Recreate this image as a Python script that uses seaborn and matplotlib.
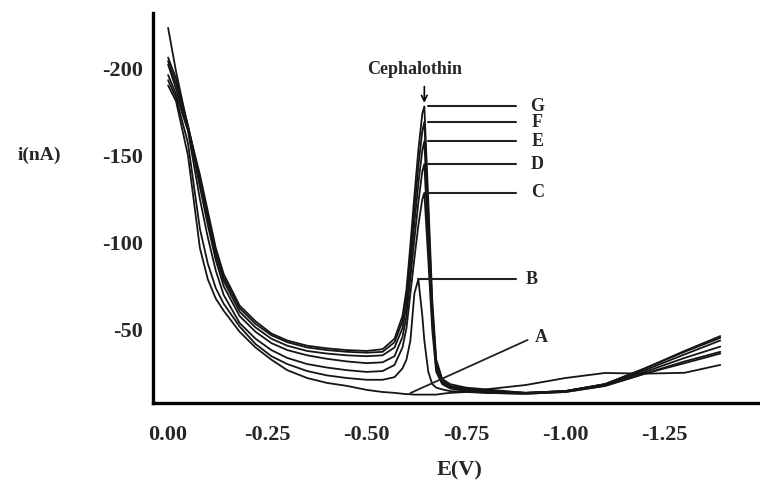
import numpy as np
import pandas as pd
import matplotlib
matplotlib.use("Agg")
import matplotlib.pyplot as plt
from matplotlib.ticker import MultipleLocator, FuncFormatter
import seaborn as sns

# ---- data ----
E = [0.0, -0.02, -0.05, -0.08, -0.10, -0.12, -0.14, -0.18, -0.22, -0.26, -0.30,
     -0.35, -0.40, -0.45, -0.50, -0.54, -0.57, -0.59, -0.60, -0.61, -0.62, -0.63,
     -0.64, -0.645, -0.655, -0.665, -0.675, -0.69, -0.71, -0.75, -0.80, -0.90,
     -1.00, -1.10, -1.20, -1.30, -1.39]

curve_G = [-223, -198, -166, -139, -118, -97, -82, -64, -55, -48, -44, -41, -39.5, -38.5,
           -38, -39, -45, -58, -73, -99, -127, -153, -174, -178, -124, -67, -33, -22, -19,
           -17, -16, -14, -15, -19, -28, -38, -46.5]
curve_F = [-206, -194, -167, -137, -116, -95, -80, -62.5, -53.5, -47, -43, -40, -38.5, -37.5,
           -37, -37.5, -43, -55, -69, -93, -119, -144, -164, -169, -117, -63, -31, -21, -18,
           -16.5, -15.5, -14, -15, -19, -28, -37.5, -45.5]
curve_E = [-204, -191, -167, -135, -113, -93, -78, -60.5, -51.5, -45, -41, -38, -36.5, -35.5,
           -35, -35.5, -40, -51, -64, -87, -111, -134, -153, -158, -109, -59, -30, -20, -17.5,
           -16, -15, -14, -15, -19, -27, -36, -44]
curve_D = [-202, -188, -166, -132, -110, -90, -75, -58, -49, -42.5, -38.5, -35.5, -33.5, -32,
           -31, -31.5, -35, -46, -58, -80, -102, -123, -141, -145, -100, -55, -28, -19.5, -17,
           -15.5, -14.5, -14, -15, -18.5, -26, -34, -40.5]
curve_C = [-196, -185, -164, -125, -103, -84, -70, -54, -45, -38.5, -34, -30.5, -28.5, -27,
           -26, -26.5, -30, -40, -51, -71, -91, -110, -125, -128.5, -90, -50, -26, -19, -16.5,
           -15, -14, -13.5, -14.5, -18, -25, -32, -37.5]
curve_B = [-193, -183, -157, -108, -88, -74, -65, -52, -42, -35, -30.5, -26.5, -24, -22.5,
           -21.5, -21.5, -23, -28, -33, -44, -71, -79, -58, -44, -26, -19, -17, -16, -15,
           -14.5, -14, -13.5, -14.5, -18, -25, -31, -36.5]
curve_A = [-190, -181, -150, -97, -79, -68, -61, -49, -40, -33, -27, -22.5, -19.7, -18,
           -15.7, -14.5, -14, -13.5, -13.3, -13.2, -13, -13, -13, -13, -13, -13, -13, -13.5,
           -14, -14.5, -16, -18.5, -22.5, -25.4, -25, -25.5, -30]

labels = ["A", "B", "C", "D", "E", "F", "G"]
curves = [curve_A, curve_B, curve_C, curve_D, curve_E, curve_F, curve_G]
x_ticks = [0.0, -0.25, -0.50, -0.75, -1.00, -1.25]
y_ticks = [-200, -150, -100, -50]

df = pd.concat([pd.DataFrame({"E": E, "I": c, "sample": lab})
                for lab, c in zip(labels, curves)], ignore_index=True)

# ---- style ----
sns.set_style("white")
plt.rcParams["font.family"] = ["Liberation Serif", "DejaVu Serif"]
plt.rcParams["font.weight"] = "bold"
plt.rcParams["axes.unicode_minus"] = False

fig = plt.figure(figsize=(7.6, 4.84), dpi=100)
ax = fig.add_axes([153 / 760, 1 - 403 / 484, 1 - 153 / 760, (403 - 13) / 484])

sns.lineplot(data=df, x="E", y="I", units="sample", estimator=None, sort=False,
             color="#151515", lw=1.3, ax=ax, legend=False)

ax.set_xlim(0.038, -1.49)
ax.set_ylim(-8.2, -231.5)

for s in ["top", "right"]:
    ax.spines[s].set_visible(False)
for s in ["left", "bottom"]:
    ax.spines[s].set_linewidth(2.4)
    ax.spines[s].set_color("black")

ax.set_xticks(x_ticks)
ax.xaxis.set_minor_locator(MultipleLocator(0.044))
ax.set_yticks(y_ticks)
ax.yaxis.set_minor_locator(MultipleLocator(10))
ax.xaxis.set_major_formatter(FuncFormatter(lambda v, p: "0.00" if abs(v) < 1e-9 else f"{v:.2f}"))
ax.yaxis.set_major_formatter(FuncFormatter(lambda v, p: f"{v:.0f}"))
ax.tick_params(axis="both", which="both", direction="out", color="black")
ax.tick_params(axis="x", which="major", length=7, width=2.6, pad=9, labelsize=16)
ax.tick_params(axis="x", which="minor", length=5, width=2.2)
ax.tick_params(axis="y", which="major", length=6, width=2.4, pad=1, labelsize=16)
ax.tick_params(axis="y", which="minor", length=5, width=2.2)
for t in ax.get_xticklabels() + ax.get_yticklabels():
    t.set_fontweight("bold")

ax.set_xlabel("")
ax.set_ylabel("")
fig.text(0.605, 0.028, "E(V)", ha="center", va="center", fontsize=16, fontweight="bold")
fig.text(0.052, 0.68, "i(nA)", ha="center", va="center", fontsize=14, fontweight="bold")


def peak_of(c):
    """Peak (most negative current) inside the reduction-wave window."""
    idx = [k for k, e in enumerate(E) if -0.75 <= e <= -0.55]
    k = min(idx, key=lambda j: c[j])
    return E[k], c[k]


# ---- annotations derived from the data ----
label_end = -0.875
for lab, c in zip(labels, curves):
    if lab == "A":
        continue
    pe, pi = peak_of(c)
    start = pe - (0.0 if lab == "B" else 0.01)
    ax.plot([start, label_end], [pi, pi], color="#222222", lw=1.5)
    ax.text(-0.915 if lab == "B" else -0.93, pi, lab, ha="center", va="center",
            fontsize=13, fontweight="bold")

# A pointer line
iA = E.index(-0.61)
ax.plot([E[iA], -0.905], [curve_A[iA] - 0.7, -44.3], color="#222222", lw=1.3)
ax.text(-0.94, -45.5, "A", ha="center", va="center", fontsize=13, fontweight="bold")

# Cephalothin arrow
pe, pi = peak_of(curve_G)
ax.annotate("", xy=(pe, pi - 0.5), xytext=(pe, pi - 13),
            arrowprops=dict(arrowstyle="->", lw=1.2, color="black"))
ax.text(pe + 0.025, pi - 21, "Cephalothin", ha="center", va="center",
        fontsize=13, fontweight="bold")

fig.savefig("out.png", dpi=100)
